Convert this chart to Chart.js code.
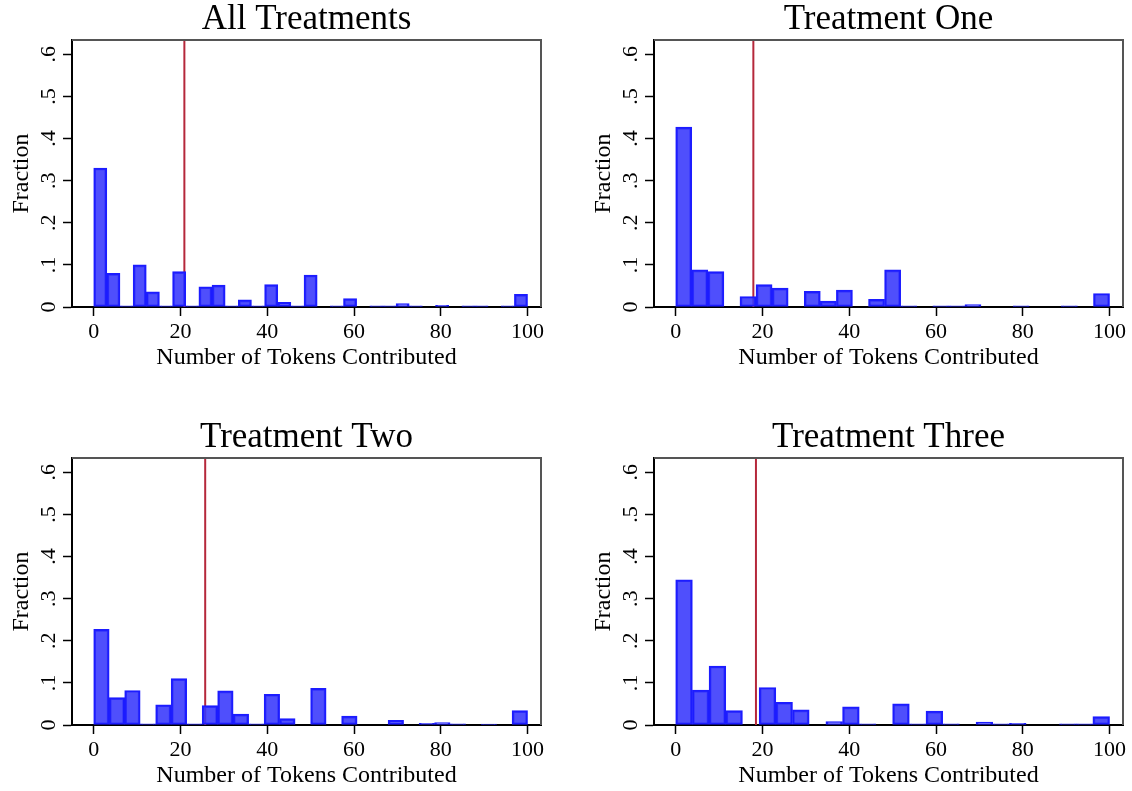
<!DOCTYPE html>
<html lang="en">
<head>
    <meta charset="UTF-8">
    <title>Tokens Contributed by Treatment</title>
    <style>
        body {
            margin: 0;
            background: #fff;
        }

        #wrap {
            position: relative;
            width: 1132px;
            height: 791px;
        }

        .panel {
            position: absolute;
            width: 560px;
            height: 372px;
        }
    </style>
</head>
<body>

<div id="wrap">
    <div class="panel" style="left:0;top:0"><canvas id="c0" width="560" height="372"></canvas></div>
    <div class="panel" style="left:582px;top:0"><canvas id="c1" width="560" height="372"></canvas></div>
    <div class="panel" style="left:0;top:418px"><canvas id="c2" width="560" height="372"></canvas></div>
    <div class="panel" style="left:582px;top:418px"><canvas id="c3" width="560" height="372"></canvas></div>
</div>

<script src="https://cdn.jsdelivr.net/npm/chart.js"></script>
<script>
    // fraction of contributions per bin, bins span 0..100
    const fracAll = [0.330, 0.080, 0.003, 0.100, 0.036, 0.003, 0.084, 0.003, 0.048, 0.052, 0.003,
        0.017, 0.003, 0.053, 0.011, 0.003, 0.076, 0, 0.003, 0.020, 0, 0.003, 0.003, 0.008, 0.003,
        0, 0.004, 0, 0.003, 0.003, 0, 0.003, 0.030];
    const fracOne = [0.427, 0.088, 0.084, 0, 0.025, 0.053, 0.045, 0, 0.037, 0.014, 0.040, 0, 0.018,
        0.088, 0.003, 0, 0.003, 0.003, 0.006, 0, 0, 0.003, 0, 0, 0.003, 0, 0.032];
    const fracTwo = [0.227, 0.065, 0.082, 0.003, 0.048, 0.110, 0.003, 0.046, 0.081, 0.026, 0.003,
        0.073, 0.015, 0, 0.087, 0, 0.021, 0, 0, 0.011, 0, 0.004, 0.006, 0.003, 0, 0.002, 0, 0.034];
    const fracThree = [0.345, 0.083, 0.140, 0.034, 0, 0.089, 0.054, 0.036, 0, 0.008, 0.043, 0.003, 0,
        0.050, 0.003, 0.033, 0.003, 0, 0.007, 0.003, 0.004, 0, 0, 0.003, 0.003, 0.020];

    const panelTitles = ['All Treatments', 'Treatment One', 'Treatment Two', 'Treatment Three'];
    const meanTokens = [20.9, 17.9, 25.7, 18.5];

    const xTicks = [0, 20, 40, 60, 80, 100];
    const yTicks = [0, 0.1, 0.2, 0.3, 0.4, 0.5, 0.6];
    const yTickLabels = ['0', '.1', '.2', '.3', '.4', '.5', '.6'];

    const X_MIN = -5, X_MAX = 103.1, Y_MAX = 0.634;
    const FILL = 'rgba(55, 55, 252, 0.88)';
    const EDGE = '#1c1cff';
    const RED = '#b5283b';

    Chart.defaults.font.family = '"Liberation Serif", "Times New Roman", serif';
    Chart.defaults.color = '#000';

    // gray top/right frame plus the panel title over the plot area
    const frameTitle = {
        id: 'frameTitle',
        afterDraw(chart, args, opts) {
            const { ctx, chartArea: a } = chart;
            ctx.save();
            ctx.strokeStyle = '#555';
            ctx.lineWidth = 2;
            ctx.beginPath();
            ctx.moveTo(a.left, a.top);
            ctx.lineTo(a.right, a.top);
            ctx.lineTo(a.right, a.bottom);
            ctx.stroke();
            ctx.fillStyle = '#000';
            ctx.font = '35px "Liberation Serif", serif';
            ctx.textAlign = 'center';
            ctx.textBaseline = 'alphabetic';
            ctx.fillText(opts.text, (a.left + a.right) / 2, 29);
            ctx.restore();
        }
    };

    function drawPanel(idx, fracs) {
        const w = 100 / fracs.length;
        const bars = fracs.map((f, i) => ({ x: (i + 0.5) * w, y: f }));
        const mean = meanTokens[idx];

        new Chart(document.getElementById('c' + idx), {
            type: 'bar',
            data: {
                datasets: [
                    {
                        type: 'line',
                        data: [{ x: mean, y: 0 }, { x: mean, y: Y_MAX }],
                        borderColor: RED,
                        borderWidth: 2,
                        pointRadius: 0,
                        order: 2
                    },
                    {
                        type: 'bar',
                        data: bars,
                        backgroundColor: FILL,
                        borderColor: EDGE,
                        borderWidth: 2,
                        borderSkipped: false,
                        barPercentage: 1,
                        categoryPercentage: 1,
                        order: 1
                    }
                ]
            },
            options: {
                responsive: false,
                animation: false,
                layout: { padding: { top: 40, right: 19, left: 0, bottom: 0 } },
                plugins: {
                    legend: { display: false },
                    tooltip: { enabled: false },
                    frameTitle: { text: panelTitles[idx] }
                },
                scales: {
                    x: {
                        type: 'linear',
                        min: X_MIN,
                        max: X_MAX,
                        offset: false,
                        afterBuildTicks: s => { s.ticks = xTicks.map(v => ({ value: v })); },
                        afterFit: s => { s.height = 65; },
                        ticks: { font: { size: 22 }, padding: 3, callback: v => String(v) },
                        grid: { display: true, offset: false, drawOnChartArea: false, tickLength: 9, tickColor: '#000', tickWidth: 1.5 },
                        border: { display: true, color: '#000', width: 2 },
                        title: { display: true, text: 'Number of Tokens Contributed', font: { size: 24 }, padding: { top: 0, bottom: 0 } }
                    },
                    y: {
                        min: 0,
                        max: Y_MAX,
                        afterBuildTicks: s => { s.ticks = yTicks.map(v => ({ value: v })); },
                        afterFit: s => { s.width = 72; },
                        ticks: {
                            font: { size: 22 },
                            padding: 6,
                            minRotation: 90,
                            maxRotation: 90,
                            crossAlign: 'center',
                            callback: (v, i) => yTickLabels[i]
                        },
                        grid: { display: true, drawOnChartArea: false, tickLength: 9, tickColor: '#000', tickWidth: 1.5 },
                        border: { display: true, color: '#000', width: 2 },
                        title: { display: true, text: 'Fraction', font: { size: 24 }, padding: { top: 7, bottom: 0 } }
                    }
                }
            },
            plugins: [frameTitle]
        });
    }

    window.onload = () => {
        drawPanel(0, fracAll);
        drawPanel(1, fracOne);
        drawPanel(2, fracTwo);
        drawPanel(3, fracThree);
    };
</script>
</body>
</html>
